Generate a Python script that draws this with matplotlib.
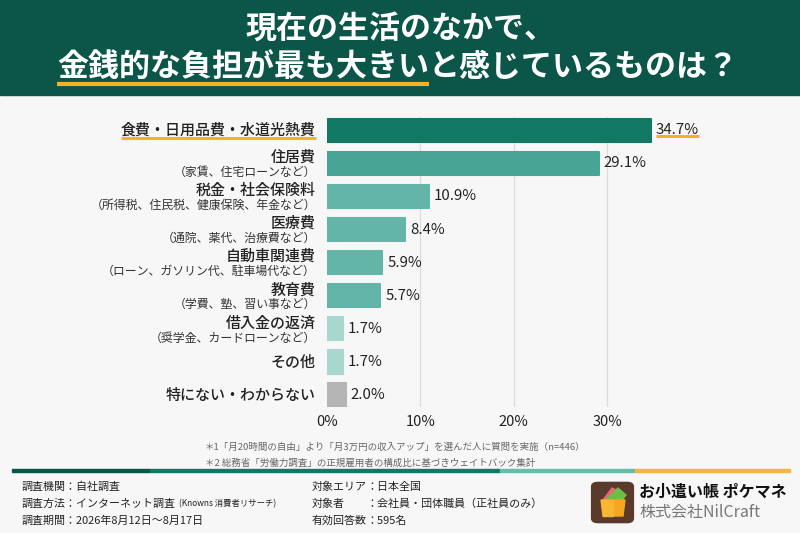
import matplotlib
matplotlib.use('Agg')
import matplotlib.pyplot as plt
from matplotlib.patches import Rectangle, FancyBboxPatch, Polygon
from matplotlib.lines import Line2D

plt.rcParams['font.family'] = ['Noto Sans CJK JP', 'DejaVu Sans']

# ---- data ----
categories = ['食費・日用品費・水道光熱費', '住居費', '税金・社会保険料', '医療費',
              '自動車関連費', '教育費', '借入金の返済', 'その他', '特にない・わからない']
sub_labels = ['', '（家賃、住宅ローンなど）', '（所得税、住民税、健康保険、年金など）',
              '（通院、薬代、治療費など）', '（ローン、ガソリン代、駐車場代など）',
              '（学費、塾、習い事など）', '（奨学金、カードローンなど）', '', '']
values = [34.7, 29.1, 10.9, 8.4, 5.9, 5.7, 1.7, 1.7, 2.0]
bar_colors = ['#117864', '#48A595', '#63B5A7', '#63B5A7', '#63B5A7', '#63B5A7',
              '#A7D7CF', '#A7D7CF', '#B5B5B5']
xticks = [0, 10, 20, 30]

title1 = '現在の生活のなかで、'
title2_a = '金銭的な負担が最も大きい'
title2_b = 'と感じているものは？'
notes = ['＊1「月20時間の自由」より「月3万円の収入アップ」を選んだ人に質問を実施（n=446）',
         '＊2 総務省「労働力調査」の正規雇用者の構成比に基づきウェイトバック集計']
info_left = ['調査機関：自社調査', '調査方法：インターネット調査', '調査期間：2026年8月12日～8月17日']
info_mid_keys = ['対象エリア', '対象者', '有効回答数']
info_mid_vals = ['：日本全国', '：会社員・団体職員（正社員のみ）', '：595名']

W, H = 800, 533
GREEN = '#0B5648'
ORANGE = '#F5B12A'

def fx(px):
    return px / W

def fy(py):
    return 1 - py / H

fig = plt.figure(figsize=(8, 5.33), dpi=100, facecolor='#F7F7F7')

# header band
fig.patches.append(Rectangle((0, fy(95)), 1, 95 / H, transform=fig.transFigure,
                             color=GREEN, zorder=0))
fig.text(0.5, fy(29), title1, color='white', fontsize=22.3, fontweight='bold',
         ha='center', va='center')
t2a = fig.text(fx(57), fy(67), title2_a, color='white', fontsize=22.3,
               fontweight='bold', ha='left', va='center')

# ---- chart ----
ax = fig.add_axes([fx(327), fy(407), 40 * 9.333 / W, (407 - 117) / H])
ax.set_facecolor('none')
ypos = list(range(len(values)))
ax.barh(ypos, values, height=0.7, color=bar_colors, edgecolor=bar_colors,
        linewidth=1.5, joinstyle='round', zorder=3)
ax.set_xlim(0, 40)
ax.set_ylim(8.36, -0.4)
ax.set_xticks(xticks)
ax.set_xticklabels([f'{t}%' for t in xticks], fontsize=10.5, color='#222222')
ax.set_yticks([])
ax.tick_params(axis='x', length=0, pad=6)
for s in ax.spines.values():
    s.set_visible(False)
for t in xticks[1:]:
    ax.axvline(t, color='#DDDDDD', linewidth=0.9, zorder=1)

ytr = ax.get_yaxis_transform()
label_texts = []
value_texts = []
for i, (cat, sub, v) in enumerate(zip(categories, sub_labels, values)):
    if sub:
        ax.annotate(cat, xy=(0, i), xycoords=ytr, xytext=(-11, 6),
                    textcoords='offset pixels', ha='right', va='center',
                    fontsize=10.8, fontweight='medium', color='#222222')
        ax.annotate(sub, xy=(0, i), xycoords=ytr, xytext=(-11, -9),
                    textcoords='offset pixels', ha='right', va='center',
                    fontsize=8.6, color='#333333')
    else:
        lt = ax.annotate(cat, xy=(0, i), xycoords=ytr, xytext=(-11, 0),
                         textcoords='offset pixels', ha='right', va='center',
                         fontsize=10.8, fontweight='medium', color='#222222')
        label_texts.append((i, lt))
    vt = ax.annotate(f'{v:.1f}%', xy=(v, i), xytext=(5, 0),
                     textcoords='offset pixels', ha='left', va='center',
                     fontsize=10.8, color='#222222')
    value_texts.append(vt)

# notes
for k, n in enumerate(notes):
    fig.text(fx(205), fy(447 + 16 * k), n, fontsize=6.8, color='#666666',
             ha='left', va='center')

# footer stripe
for x0, x1, c in [(12, 150, GREEN), (150, 500, '#157866'), (500, 635, '#6BBBAD'),
                  (635, 790, '#F5B73B')]:
    fig.patches.append(Rectangle((fx(x0), fy(472)), (x1 - x0) / W, 3 / H,
                                 transform=fig.transFigure, color=c, zorder=2))

rows_y = [487, 504, 521]
for k, s in enumerate(info_left):
    t = fig.text(fx(22), fy(rows_y[k]), s, fontsize=7.9, color='#222222',
                 ha='left', va='center')
    if k == 1:
        fig.canvas.draw()
        bb = t.get_window_extent()
        fig.text(bb.x1 / W + 0.004, fy(rows_y[k]), '(Knowns 消費者リサーチ)',
                 fontsize=6, color='#222222', ha='left', va='center')
for k in range(3):
    fig.text(fx(312), fy(rows_y[k]), info_mid_keys[k], fontsize=7.9,
             color='#222222', ha='left', va='center')
    fig.text(fx(366), fy(rows_y[k]), info_mid_vals[k], fontsize=7.9,
             color='#222222', ha='left', va='center')

# logo
fig.patches.append(FancyBboxPatch((fx(594), fy(521)), 37 / W, 37 / H,
                                  boxstyle='round,pad=0.003,rounding_size=0.008',
                                  transform=fig.transFigure, color='#5A3A2A', zorder=2))
for pts, c in [([(603, 500), (612, 488), (622, 493), (616, 503)], '#E9677A'),
               ([(606, 500), (618, 488), (626, 495), (620, 503)], '#6DBE45'),
               ([(601, 500), (625, 500), (623, 516), (603, 516)], '#F5A623'),
               ([(601, 500), (613, 500), (613, 516), (603, 516)], '#F7B733')]:
    fig.patches.append(Polygon([(fx(a), fy(b)) for a, b in pts], closed=True,
                               transform=fig.transFigure, color=c, zorder=3))
fig.text(fx(639), fy(492), 'お小遣い帳 ポケマネ', fontsize=11.5, fontweight='bold',
         color='#111111', ha='left', va='center')
fig.text(fx(639), fy(512), '株式会社NilCraft', fontsize=11.5, color='#777777',
         ha='left', va='center')

# orange underlines computed from text extents
fig.canvas.draw()

def underline(t, dy, lw):
    bb = t.get_window_extent()
    y = bb.y0 + dy
    fig.add_artist(Line2D([bb.x0 / W, bb.x1 / W], [y / H, y / H],
                          transform=fig.transFigure, color=ORANGE,
                          linewidth=lw, solid_capstyle='butt', zorder=1))

bb = t2a.get_window_extent()
fig.text(bb.x1 / W, fy(67), title2_b, color='white', fontsize=22.3,
         fontweight='bold', ha='left', va='center')
underline(t2a, -1, 3)
underline(label_texts[0][1], 1, 2.2)
underline(value_texts[0], 1, 2.2)

fig.savefig('out.png', dpi=100, facecolor=fig.get_facecolor())
